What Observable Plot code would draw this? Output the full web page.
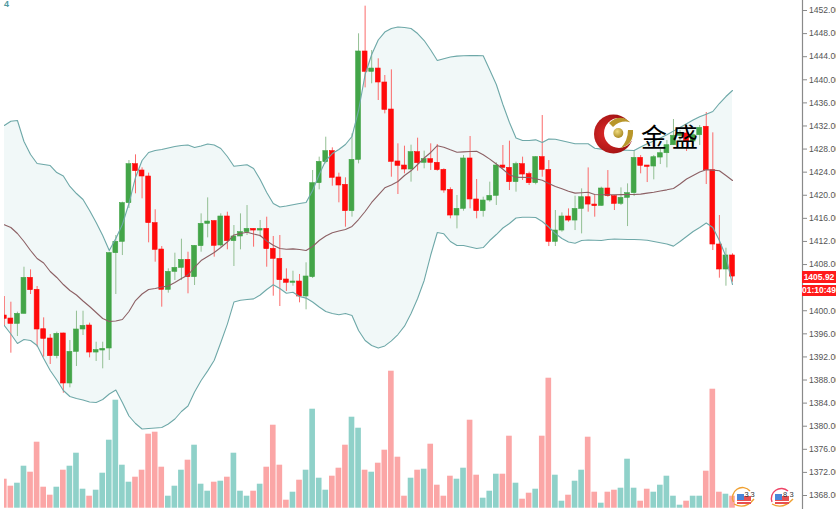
<!DOCTYPE html>
<html><head><meta charset="utf-8">
<script src="https://cdn.jsdelivr.net/npm/d3@7"></script>
<script src="https://cdn.jsdelivr.net/npm/@observablehq/plot@0.6"></script>
<style>
html,body{margin:0;padding:0;background:#fff}
#wrap{position:relative;width:836px;height:511px;overflow:hidden}
#wrap svg{max-width:none !important;position:absolute;left:0;top:0}
.tag{position:absolute;left:802px;width:34px;background:#ff1a1a;color:#fff;font:bold 8.5px "Liberation Sans",sans-serif;text-align:center;white-space:nowrap}
#corner{position:absolute;left:4px;top:-1px;font:bold 9px "Liberation Sans",sans-serif;color:#4f9a9f}
#brand{position:absolute;left:641px;top:120px;font:400 26px/32px "Noto Sans CJK SC",sans-serif;letter-spacing:5px;color:#000}
#art{pointer-events:none}
</style></head><body>
<div id="wrap"></div>
<script>
// open, high, low, close per session
const opens=[1399.17,1398.65,1397.73,1399.46,1405.70,1403.62,1396.80,1395.19,1392.13,1396.06,1387.40,1392.88,1396.75,1397.44,1392.76,1393.11,
1393.46,1409.97,1411.93,1418.63,1425.38,1424.29,1423.25,1415.17,1410.60,1403.62,1406.74,1407.43,1408.81,1405.81,1411.18,1415.05,
1415.51,1411.30,1416.32,1412.05,1412.86,1413.61,1414.18,1413.89,1414.18,1410.73,1408.99,1405.41,1404.84,1405.06,1402.47,1405.81,
1422.09,1425.73,1427.64,1423.08,1421.81,1417.24,1426.13,1444.90,1441.38,1441.95,1439.53,1434.85,1425.85,1425.15,1424.46,1427.46,
1425.62,1426.25,1425.62,1424.40,1420.94,1416.49,1417.65,1426.37,1419.27,1417.24,1419.09,1419.90,1425.15,1424.75,1422.27,1425.38,
1423.65,1422.09,1426.60,1424.40,1411.93,1413.89,1416.32,1415.62,1417.64,1419.66,1418.39,1418.16,1421.17,1419.84,1418.51,1419.55,
1420.36,1426.48,1425.15,1424.98,1426.53,1427.28,1428.67,1430.30,1430.70,1429.31,1430.40,1431.86,1424.34,1411.47,1407.14,1409.57];
const highs=[1402.46,1401.48,1399.75,1407.54,1407.08,1404.20,1398.77,1395.88,1396.29,1396.12,1394.84,1399.92,1399.92,1397.85,1394.55,1394.55,
1410.14,1413.03,1418.80,1426.02,1427.00,1424.75,1423.83,1417.48,1411.12,1407.26,1409.97,1412.39,1410.14,1411.30,1416.78,1419.55,
1415.63,1416.78,1417.07,1414.76,1416.78,1418.22,1414.18,1415.63,1416.20,1412.86,1413.03,1407.26,1406.85,1406.28,1408.30,1424.29,
1426.60,1430.06,1428.21,1423.83,1423.02,1430.64,1447.96,1452.75,1445.07,1443.63,1440.74,1441.72,1428.91,1428.50,1428.68,1429.89,
1427.64,1428.91,1428.79,1424.58,1421.29,1419.96,1426.89,1430.18,1422.73,1419.67,1422.27,1425.62,1428.62,1429.37,1425.73,1426.60,
1424.00,1426.71,1433.81,1426.01,1417.36,1416.95,1417.64,1419.84,1421.11,1424.74,1419.95,1421.40,1424.28,1419.95,1421.28,1421.97,
1427.75,1426.88,1425.15,1426.88,1428.04,1429.48,1433.12,1431.22,1432.08,1430.87,1432.08,1434.33,1430.81,1416.49,1410.83,1409.86];
const lows=[1397.27,1392.65,1395.54,1399.46,1402.81,1393.69,1391.96,1390.69,1391.67,1385.72,1386.65,1390.34,1395.71,1391.84,1391.21,1389.94,
1391.38,1402.81,1409.56,1417.71,1420.25,1419.38,1411.76,1408.41,1400.62,1403.04,1405.23,1405.23,1402.93,1404.37,1410.14,1412.62,
1409.28,1411.01,1410.55,1407.66,1410.55,1413.03,1411.01,1412.74,1407.54,1402.52,1400.73,1403.33,1404.25,1401.37,1400.16,1405.58,
1420.94,1425.44,1421.57,1418.69,1414.47,1416.21,1425.44,1438.60,1439.30,1436.41,1434.10,1423.13,1420.13,1423.71,1422.27,1424.17,
1424.58,1424.29,1424.17,1420.36,1415.92,1414.18,1417.24,1417.65,1415.92,1416.21,1418.80,1418.23,1424.58,1420.82,1420.54,1422.56,
1421.69,1421.81,1423.13,1411.12,1411.12,1413.60,1415.33,1413.89,1413.31,1417.07,1416.20,1418.11,1419.66,1417.36,1418.22,1414.58,
1419.78,1423.71,1422.20,1422.67,1425.32,1424.74,1428.62,1429.48,1427.58,1428.44,1428.62,1421.86,1410.43,1405.64,1404.25,1404.94];
const closes=[1398.60,1397.73,1399.46,1405.70,1403.56,1396.75,1395.13,1392.13,1396.00,1387.40,1392.88,1396.75,1397.38,1392.76,1393.17,1393.40,
1409.97,1411.93,1418.63,1425.38,1424.17,1423.25,1415.17,1410.55,1403.62,1406.74,1407.43,1408.81,1405.81,1411.24,1415.05,1415.45,
1411.24,1416.32,1412.05,1412.86,1413.61,1414.18,1413.89,1414.18,1410.66,1408.99,1405.29,1404.84,1405.06,1402.47,1405.93,1422.09,
1425.79,1427.64,1423.02,1421.69,1417.24,1426.13,1444.90,1441.38,1441.95,1439.53,1434.79,1425.79,1425.10,1424.46,1427.46,1425.56,
1426.25,1425.62,1424.35,1420.82,1416.49,1417.65,1426.37,1419.27,1417.24,1419.09,1419.90,1425.15,1424.75,1422.27,1425.38,1423.59,
1422.09,1426.60,1424.40,1411.93,1413.89,1416.32,1415.62,1417.64,1419.66,1418.39,1418.11,1421.17,1419.84,1418.51,1419.55,1420.36,
1426.48,1425.09,1424.92,1426.59,1427.28,1428.67,1430.30,1430.70,1429.31,1430.40,1431.68,1424.34,1411.47,1407.14,1409.57,1405.92];
const volumes=[29,22,25,42,36,66,21,13,21,38,42,55,19,12,18,35,68,108,43,26,31,38,74,76,41,12,22,38,48,63,24,17,26,27,31,55,17,12,17,24,41,83,
43,8,16,28,38,99,30,18,32,40,63,91,80,38,36,45,58,137,51,12,30,38,39,64,23,12,32,29,40,88,33,10,17,34,34,72,25,9,15,19,72,130,
33,7,13,27,38,71,16,5,16,18,20,49,20,7,19,16,23,32,12,3,7,12,12,37,119,16,14,12];
const upperBand=[1432.08,1432.83,1432.95,1429.31,1427.06,1425.50,1425.33,1425.15,1423.94,1423.33,1421.52,1420.30,1419.27,1417.36,1415.28,1413.03,
1410.43,1412.51,1414.94,1418.57,1423.08,1426.02,1427.41,1427.75,1427.92,1428.18,1428.44,1428.62,1428.70,1428.27,1428.53,1428.88,
1428.70,1428.10,1426.71,1425.03,1425.15,1425.28,1424.63,1422.73,1420.48,1418.57,1417.97,1418.14,1418.36,1418.57,1418.75,1420.82,
1423.59,1426.02,1427.23,1427.92,1428.79,1430.18,1434.68,1440.91,1444.38,1446.89,1448.27,1448.88,1449.14,1449.05,1448.88,1448.01,
1446.80,1445.16,1443.34,1443.65,1443.94,1444.10,1444.15,1444.20,1444.19,1444.15,1441.69,1439.18,1435.72,1432.60,1429.92,1429.48,
1429.48,1429.60,1429.14,1429.74,1429.69,1429.43,1429.17,1428.93,1428.91,1428.91,1428.15,1427.99,1427.92,1427.86,1427.82,1427.79,
1427.75,1428.36,1428.91,1429.41,1429.92,1430.49,1431.11,1431.73,1432.38,1433.02,1433.59,1434.04,1434.51,1435.89,1437.10,1438.14];
const middleBand=[1414.88,1414.42,1413.38,1411.99,1410.43,1409.05,1408.27,1406.80,1405.76,1404.54,1403.50,1402.73,1401.69,1400.73,1399.69,1398.66,
1398.14,1398.22,1398.48,1399.87,1401.77,1402.90,1403.68,1403.85,1404.11,1404.28,1404.89,1405.58,1406.19,1407.49,1408.70,1409.39,
1410.09,1410.95,1411.90,1413.12,1413.38,1413.60,1413.29,1413.03,1412.08,1411.33,1410.78,1410.64,1410.71,1410.61,1410.43,1411.13,
1412.16,1412.94,1413.51,1413.81,1414.07,1414.59,1415.80,1417.19,1418.75,1420.04,1421.29,1421.78,1422.38,1423.42,1424.24,1425.33,
1426.45,1427.41,1428.58,1428.31,1427.87,1427.46,1427.51,1427.58,1427.63,1427.01,1426.26,1425.41,1424.51,1423.54,1423.11,1423.09,
1423.08,1422.85,1422.61,1422.04,1421.52,1421.12,1420.69,1420.37,1420.44,1420.53,1420.13,1420.08,1420.08,1420.10,1420.11,1420.13,
1420.13,1420.20,1420.37,1420.53,1420.74,1420.94,1421.17,1421.95,1422.82,1423.42,1424.03,1424.41,1424.36,1424.25,1423.42,1422.56];
const lowerBand=[1397.44,1395.97,1394.33,1395.02,1394.85,1393.98,1391.73,1389.65,1388.00,1386.19,1385.15,1384.80,1384.54,1384.19,1384.11,1384.63,
1385.58,1386.27,1384.11,1381.77,1380.47,1379.52,1379.60,1379.69,1379.78,1380.38,1381.25,1382.55,1383.50,1385.93,1387.92,1389.58,
1391.43,1394.50,1397.69,1401.50,1401.81,1401.95,1402.05,1402.73,1403.68,1404.49,1403.85,1403.04,1403.21,1402.47,1402.19,1401.51,
1400.65,1399.87,1399.52,1399.31,1399.52,1399.18,1396.58,1394.85,1393.98,1393.53,1393.91,1394.79,1395.88,1397.32,1399.52,1402.12,
1405.24,1409.65,1413.55,1413.32,1411.99,1411.30,1411.30,1411.04,1410.78,1410.95,1412.16,1413.20,1414.33,1415.11,1416.06,1416.18,
1416.18,1416.15,1415.46,1414.50,1413.38,1412.51,1411.90,1411.70,1412.16,1412.25,1412.20,1412.16,1412.34,1412.42,1412.39,1412.35,
1412.34,1412.30,1412.22,1411.99,1411.78,1411.56,1411.19,1411.99,1412.86,1413.72,1414.42,1415.20,1414.42,1412.16,1409.39,1404.54];
// 1404 is hidden behind the price tags in the reference
const priceTicks=[1368,1372,1376,1380,1384,1388,1392,1396,1400,1408,1412,1416,1420,1424,1428,1432,1436,1440,1444,1448,1452];
const lastPrice=1405.92, countdown="01:10:49";
const volumeBase=1365.8, volumeUnit=0.17319; // volume panel shares the price axis

const RED="#ff0a0a", GREEN="#43a548", PINK="#fba6a6", TEAL="#8fd1c9";
const rows=opens.map((o,i)=>({i,o,h:highs[i],l:lows[i],c:closes[i],v:volumes[i],u:upperBand[i],m:middleBand[i],d:lowerBand[i],up:closes[i]>=o}));

const plot=Plot.plot({
  width:840,height:511,marginLeft:4,marginRight:38,marginTop:0,marginBottom:3,
  style:{fontFamily:'"Liberation Sans",sans-serif',background:"transparent",overflow:"hidden",maxWidth:"none"},
  x:{type:"linear",domain:[0,111],range:[3.8,732],axis:null},
  y:{domain:[1368,1452],range:[495,10],axis:null},
  marks:[
    Plot.rect(rows,{x1:d=>d.i-0.43,x2:d=>d.i+0.43,y1:volumeBase,y2:d=>volumeBase+d.v*volumeUnit,fill:d=>d.up?TEAL:PINK,clip:true}),
    Plot.areaY(rows,{x:"i",y1:"d",y2:"u",fill:"#f1f8f8",clip:true}),
    Plot.ruleX(rows,{x:"i",y1:"l",y2:"h",stroke:d=>d.up?"#93bf93":"#fb6a6a",strokeWidth:1,clip:true}),
    Plot.rect(rows,{x1:d=>d.i-0.37,x2:d=>d.i+0.37,y1:"o",y2:"c",fill:d=>d.up?GREEN:RED,stroke:d=>d.up?GREEN:RED,strokeWidth:0.6,clip:true}),
    Plot.line(rows,{x:"i",y:"u",stroke:"#6ea8a8",strokeWidth:1.1,clip:true}),
    Plot.line(rows,{x:"i",y:"d",stroke:"#6ea8a8",strokeWidth:1.1,clip:true}),
    Plot.line(rows,{x:"i",y:"m",stroke:"#8c6064",strokeWidth:1.1,clip:true}),
    Plot.frame({anchor:"right",stroke:"#8a8a8a",strokeWidth:1.2}),
    Plot.axisY(priceTicks,{anchor:"right",tickSize:4,tickPadding:2.5,stroke:"#8a8a8a",fill:"#555",fontSize:8.6,tickFormat:d=>d.toFixed(2),label:null})
  ]
});
const wrap=document.getElementById("wrap");
wrap.appendChild(plot);

// price and countdown tags sit on the y scale
const py=plot.scale("y").apply(lastPrice);
const t1=document.createElement("div");t1.className="tag";t1.textContent=lastPrice.toFixed(2);
t1.style.cssText=`top:${py-5.5}px;height:12px;line-height:12px;overflow:hidden`;wrap.appendChild(t1);
const t2=document.createElement("div");t2.className="tag";t2.textContent=countdown;
t2.style.cssText=`top:${py+8.5}px;height:11px;line-height:11px;overflow:hidden`;wrap.appendChild(t2);

const corner=document.createElement("div");corner.id="corner";corner.textContent="4";wrap.appendChild(corner);

// logo and event flags
const art=document.createElementNS("http://www.w3.org/2000/svg","svg");
art.id="art";art.setAttribute("width",836);art.setAttribute("height",511);
art.innerHTML=`
<defs>
<radialGradient id="rg" cx="0.35" cy="0.5" r="0.75"><stop offset="0" stop-color="#e02a2a"/><stop offset="1" stop-color="#8f0c0c"/></radialGradient>
<radialGradient id="gg" cx="0.4" cy="0.35" r="0.7"><stop offset="0" stop-color="#f0dc80"/><stop offset="1" stop-color="#a5841c"/></radialGradient>
<mask id="bite"><rect x="590" y="110" width="50" height="50" fill="#fff"/><circle cx="619" cy="133" r="15" fill="#000"/></mask>
</defs>
<circle cx="613.5" cy="134" r="19.5" fill="url(#rg)" mask="url(#bite)"/>
<path d="M609 123 Q620 113 630 122 Q620 120 613 127 Z" fill="#b8962a"/>
<path d="M633 130 Q634 144 621 148 Q628 140 628 130 Z" fill="#b8962a"/>
<circle cx="618.3" cy="133" r="5" fill="url(#gg)"/>
<g>
<path d="M733.5 502 A10 10 0 0 1 750 491" fill="none" stroke="#f0a030" stroke-width="1.4"/>
<path d="M734 504 Q745 510 754 499" fill="none" stroke="#f0a030" stroke-width="1.4"/>
<path d="M737 496 h14 v8 h-14 z" fill="#e85050"/><path d="M737 494 h7 v6 h-7 z" fill="#4a86d8"/><path d="M737 501 h14 v1 h-14z" fill="#fff"/>
<text x="744.5" y="497" font-size="7.5" font-family="Liberation Sans" fill="#333">3</text><text x="750.5" y="497" font-size="7.5" font-family="Liberation Sans" fill="#333">3</text>
<path d="M772 502 A10 10 0 0 1 788 491" fill="none" stroke="#ee4466" stroke-width="1.4"/>
<path d="M772 504 Q783 510 793 499" fill="none" stroke="#f0a030" stroke-width="1.4"/>
<path d="M775 496 h14 v8 h-14 z" fill="#e85050"/><path d="M775 494 h7 v6 h-7 z" fill="#4a86d8"/><path d="M775 501 h14 v1 h-14z" fill="#fff"/>
<text x="783" y="497" font-size="7.5" font-family="Liberation Sans" fill="#333">8</text><text x="789.5" y="497" font-size="7.5" font-family="Liberation Sans" fill="#333">3</text>
</g>`;
wrap.appendChild(art);
const brand=document.createElement("div");brand.id="brand";brand.textContent="金盛";wrap.appendChild(brand);
</script>
</body></html>
